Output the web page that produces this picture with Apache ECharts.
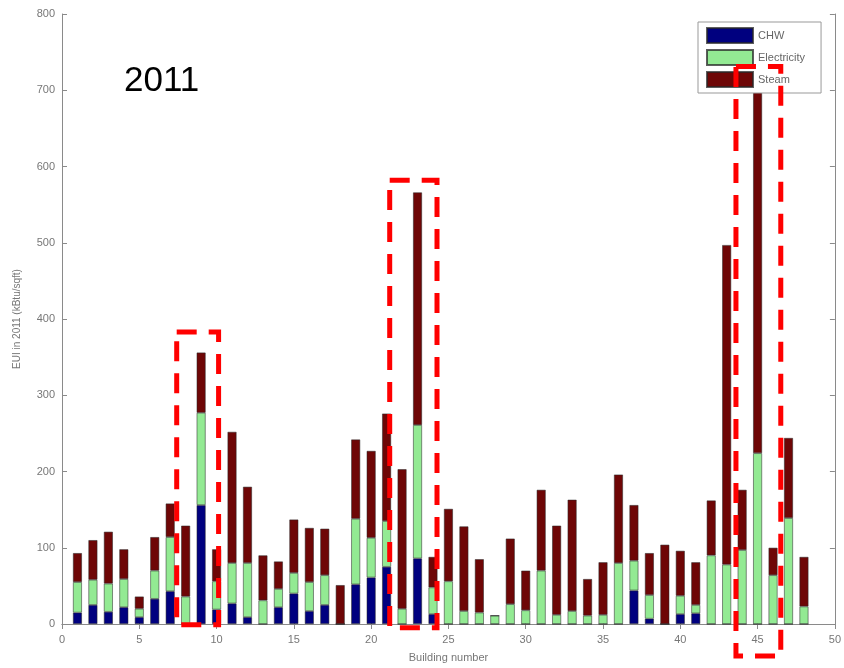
<!DOCTYPE html>
<html>
<head>
<meta charset="utf-8">
<script src="https://cdn.jsdelivr.net/npm/echarts@6/dist/echarts.min.js"></script>
<style>
html,body{margin:0;padding:0;background:#fff;}
#c{width:844px;height:668px;}
</style>
</head>
<body>
<div id="c"></div>
<script>
// Building numbers
var buildings = [1,2,3,4,5,6,7,8,9,10,11,12,13,14,15,16,17,18,19,20,21,22,23,24,25,26,27,28,29,30,31,32,33,34,35,36,37,38,39,40,41,42,43,44,45,46,47,48];
// EUI components (kBtu/sqft)
var chwValues =   [15,25,16,22,9,33,43,0,156,19,27,9,0,22,40,17,25,0,52,61,75,0,86,13,0,0,0,0,0,0,0,0,0,0,0,0,44,7,0,13,14,0,0,0,0,0,0,0];
var elecValues =  [40,33,37,37,11,37,71,36,121,37,53,71,31,24,27,38,39,0,86,52,60,20,175,35,56,17,15,11,26,18,70,12,17,11,12,80,39,31,0,24,11,90,78,97,224,64,139,23];
var steamValues = [38,52,68,39,16,44,44,93,79,42,172,100,59,36,70,71,61,51,104,114,141,183,305,40,95,111,70,0,86,52,106,117,146,48,69,116,73,55,104,59,56,72,419,79,478,36,105,65];
var seriesNames = ['CHW','Electricity','Steam'];
// x axis positions 0..50 (labels shown every 5)
var xPositions = [];
for (var k = 0; k <= 50; k++) xPositions.push(String(k));
var yTicks = [0,100,200,300,400,500,600,700,800];
// highlighted building groups (data-space box extents)
var highlightBoxes = [
  {x0: 7.42, x1: 10.13, y0: -1, y1: 383},
  {x0: 21.2, x1: 24.26, y0: -5, y1: 582},
  {x0: 43.6, x1: 46.5, y0: -42, y1: 731}
];

function onAxis(vals){
  var arr = xPositions.map(function(){ return null; });
  buildings.forEach(function(b,i){ arr[b] = vals[i]; });
  return arr;
}

var colors = ['#00007f','#93ea93','#6e0606'];
var font = 'Liberation Sans, Arial, sans-serif';
var chart = echarts.init(document.getElementById('c'));

var axisLineStyle = {color:'#8a8a8a', width:1};
var tickInterval = function(idx){ return idx % 5 === 0; };
var option = {
  animation:false,
  backgroundColor:'#fff',
  textStyle:{fontFamily:font},
  grid:{left:62, right:7, top:14, bottom:42, containLabel:false},
  legend:{
    orient:'vertical', left:698, top:22,
    data:seriesNames, icon:'rect',
    itemWidth:46, itemHeight:15, itemGap:5,
    padding:[5,16,5,8],
    backgroundColor:'#fff', borderColor:'#999', borderWidth:1,
    textStyle:{color:'#666', fontSize:11, fontFamily:font, lineHeight:15},
    z:10
  },
  xAxis:[{
    type:'category', data:xPositions, boundaryGap:false,
    name:'Building number', nameLocation:'middle', nameGap:28,
    nameTextStyle:{color:'#777', fontSize:11},
    axisLine:{show:true, onZero:false, lineStyle:axisLineStyle},
    axisTick:{show:true, inside:true, length:5, interval:tickInterval, lineStyle:axisLineStyle},
    axisLabel:{color:'#777', fontSize:11, margin:10, interval:tickInterval},
    splitLine:{show:false}
  },{
    type:'category', data:xPositions, boundaryGap:false, position:'top',
    axisLine:{show:true, lineStyle:axisLineStyle},
    axisTick:{show:true, inside:true, length:5, interval:tickInterval, lineStyle:axisLineStyle},
    axisLabel:{show:false}, splitLine:{show:false}
  }],
  yAxis:[{
    type:'value', min:yTicks[0], max:yTicks[yTicks.length-1], interval:100,
    name:'EUI in 2011 (kBtu/sqft)', nameLocation:'middle', nameGap:40, nameRotate:90,
    nameTextStyle:{color:'#777', fontSize:10},
    axisLine:{show:true, lineStyle:axisLineStyle},
    axisTick:{show:true, inside:true, length:5, lineStyle:axisLineStyle},
    axisLabel:{color:'#777', fontSize:11, margin:7},
    splitLine:{show:false}
  },{
    type:'value', position:'right', min:yTicks[0], max:yTicks[yTicks.length-1], interval:100,
    axisLine:{show:true, lineStyle:axisLineStyle},
    axisTick:{show:true, inside:true, length:5, lineStyle:axisLineStyle},
    axisLabel:{show:false}, splitLine:{show:false}
  }],
  series:[chwValues, elecValues, steamValues].map(function(v,i){
    return {
      name:seriesNames[i], type:'bar', stack:'eui', barWidth:9,
      xAxisIndex:0, yAxisIndex:0,
      itemStyle:{color:colors[i], borderColor:'rgba(40,40,40,0.75)', borderWidth:0.7},
      data:onAxis(v)
    };
  }),
  graphic:[{
    type:'text', left:124, top:64, z:20,
    style:{text:'2011', font:'35px Liberation Sans, Arial, sans-serif', fill:'#000'}
  }]
};
chart.setOption(option);

// dashed red highlight boxes positioned via the axes' scales
function px(x){ // linear position along the category axis (0..50)
  var a = chart.convertToPixel({xAxisIndex:0}, '0');
  var b = chart.convertToPixel({xAxisIndex:0}, '50');
  return a + (b - a) * x / 50;
}
function py(y){ return chart.convertToPixel({yAxisIndex:0}, y); }
var boxGraphics = highlightBoxes.map(function(b){
  var x0 = px(b.x0), x1 = px(b.x1), y0 = py(b.y1), y1 = py(b.y0);
  return {
    type:'rect', z:30,
    shape:{x:x0, y:y0, width:x1-x0, height:y1-y0},
    style:{fill:'none', stroke:'#ff0000', lineWidth:5, lineDash:[20,12]}
  };
});
chart.setOption({graphic: option.graphic.concat(boxGraphics)});
</script>
</body>
</html>
